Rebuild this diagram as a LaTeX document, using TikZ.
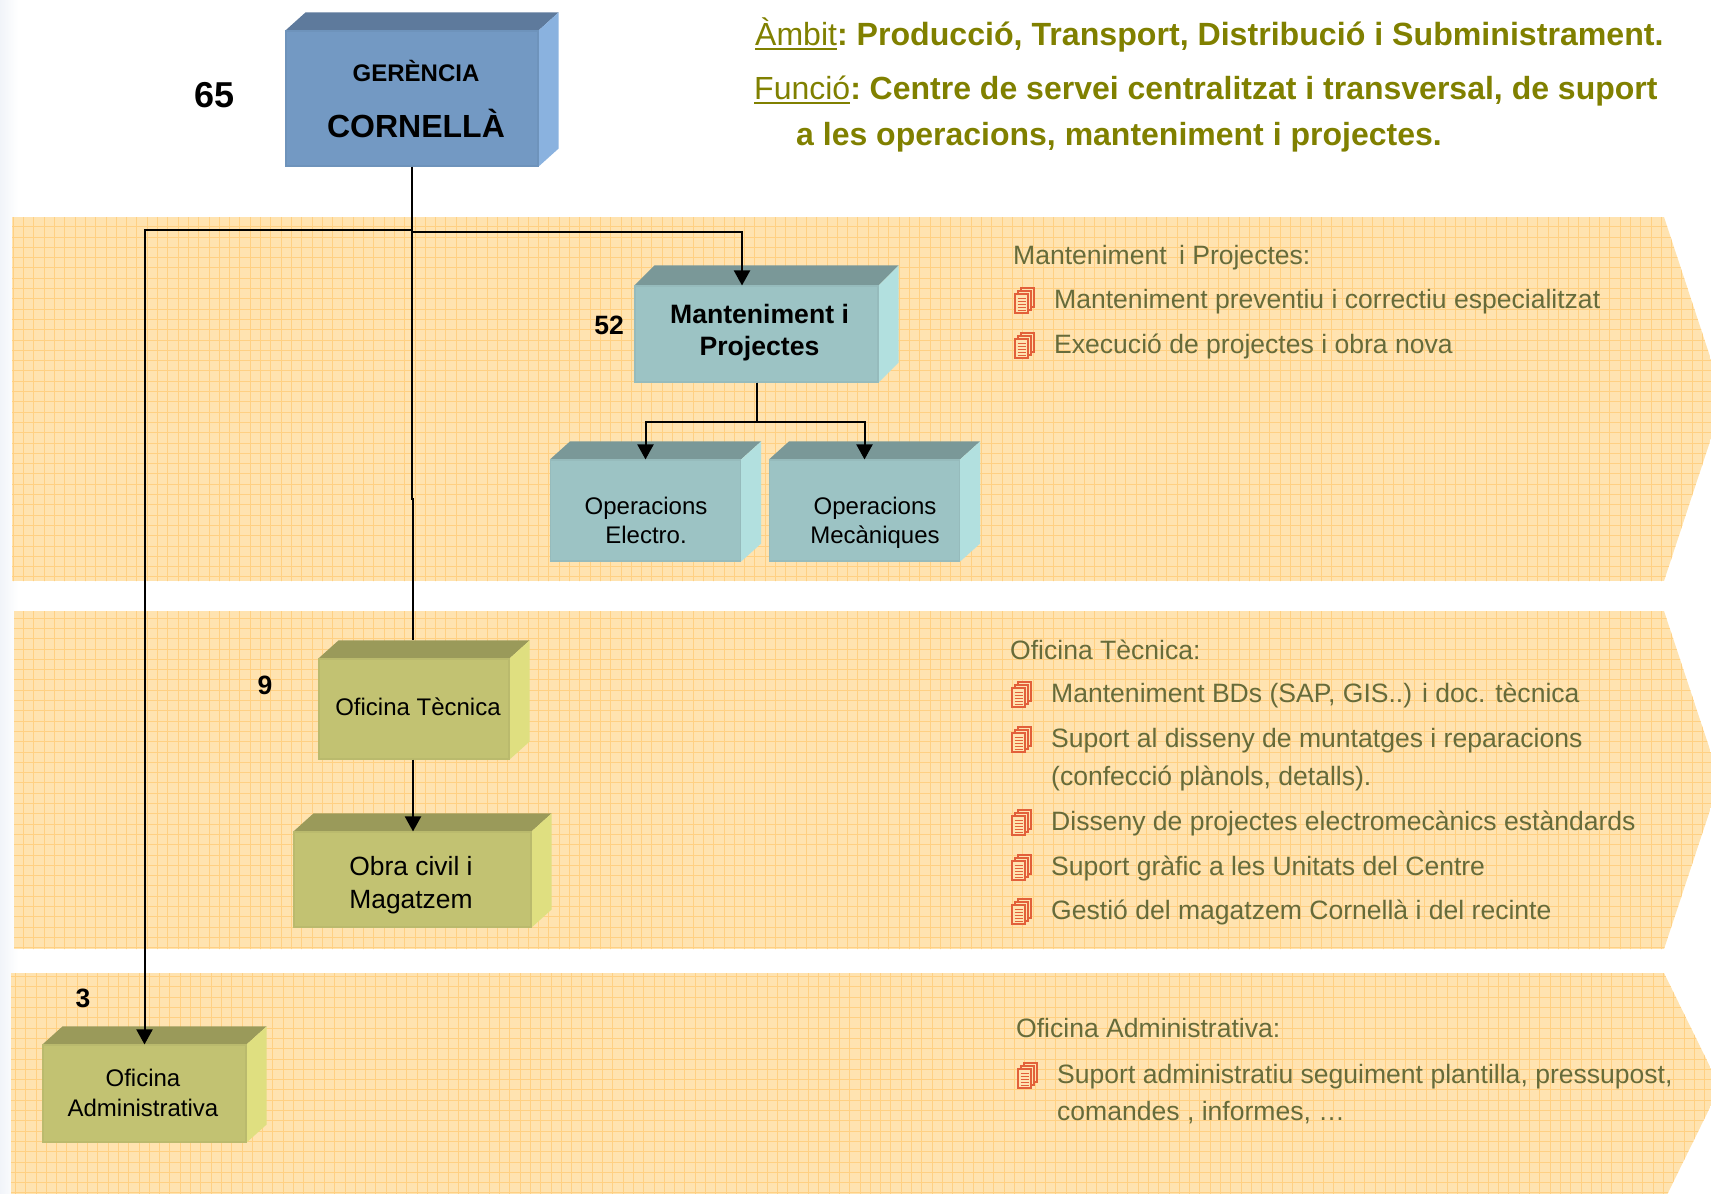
\documentclass[tikz,border=0pt]{standalone}
\usepackage{fontspec}
\setmainfont{Liberation Sans}
\usetikzlibrary{arrows.meta}
\definecolor{bandfill}{HTML}{FFE3B0}
\definecolor{bandline}{HTML}{FFD083}
\definecolor{headcolor}{HTML}{808000}
\definecolor{itemcolor}{HTML}{666B3A}
\definecolor{doccolor}{HTML}{E2603A}
\definecolor{edgecolor}{HTML}{F1F4F9}
\newcommand{\ulword}[1]{\setbox0\hbox{#1}\rlap{\rule[-4.5pt]{\wd0}{1.5pt}}\box0}
\newcommand{\band}[6]{\begin{scope}
		\clip (#1,#2) -- (1664,#2) -- (#4,{(#2+#3)/2}) -- (1664,#3) -- (#1,#3) -- cycle;
		\fill[bandfill] (#1,#2) rectangle (1730,#3);
		\draw[bandline, line width=.8pt, step=10.3pt, xshift=#5pt, yshift=#6pt] (#1-20,#2-20) grid (1750,#3+20);
	\end{scope}}
\tikzset{
	cube/.style n args={4}{fill=#1, draw=#1!96!black, line width=1.1pt, inner sep=0pt,
		append after command={\pgfextra{
			\fill[#2] (\tikzlastnode.north west) -- ++(20,#4) -- ([shift={(20,#4)}]\tikzlastnode.north east) -- (\tikzlastnode.north east) -- cycle;
			\fill[#3] (\tikzlastnode.north east) -- ++(20,#4) -- ([shift={(20,#4)}]\tikzlastnode.south east) -- (\tikzlastnode.south east) -- cycle;
		}}},
	bluebox/.style={cube={blueF}{blueT}{blueS}{-18}},
	tealbox/.style={cube={tealF}{tealT}{tealS}{#1}},
	tealbox/.default=-18,
	olivebox/.style={cube={oliveF}{oliveT}{oliveS}{-18}},
	boxtext/.style={align=center, inner sep=0pt, font=\fontsize{24}{29.5}\selectfont},
	count/.style={inner sep=0pt, font=\fontsize{26.5}{30}\selectfont\bfseries},
	head/.style={anchor=base west, inner sep=0pt, text=headcolor, font=\fontsize{32}{36}\selectfont},
	item/.style={anchor=base west, inner sep=0pt, text=itemcolor, font=\fontsize{26.55}{30}\selectfont},
	link/.style={line width=2pt},
	arrowlink/.style={line width=2pt, -{Triangle[width=16pt,length=15pt]}},
	docs/.pic={
		\draw[doccolor, line width=1.1pt, fill=bandfill] (6,0) rectangle (19,19);
		\draw[doccolor, line width=1.1pt, fill=bandfill] (3,3) rectangle (16,22);
		\draw[doccolor, line width=1.1pt, fill=bandfill] (0,6) rectangle (13,25);
		\foreach \ly in {10,13,16,19,22}
			\draw[doccolor, line width=.8pt] (2.5,\ly) -- (10.5,\ly);
	}
}
\definecolor{blueF}{HTML}{7399C3}
\definecolor{blueT}{HTML}{5E7A9C}
\definecolor{blueS}{HTML}{8AB2DF}
\definecolor{tealF}{HTML}{9CC3C4}
\definecolor{tealT}{HTML}{7A9898}
\definecolor{tealS}{HTML}{B2E0DF}
\definecolor{oliveF}{HTML}{C2C272}
\definecolor{oliveT}{HTML}{9A9A5A}
\definecolor{oliveS}{HTML}{DFDF80}
\begin{document}
\begin{tikzpicture}[x = 1pt, y = -1pt]
	\useasboundingbox (0,0) rectangle (1711,1194);
	\shade[left color=edgecolor, right color=white] (0,0) rectangle (18,1194); %page edge
	\band{12}{217}{581}{1724}{2.9}{0}
	\band{14}{611}{949}{1720}{2.9}{0}
	\band{11}{973}{1201}{1720}{5}{2}

	%boxes
	\node[bluebox, minimum width=252, minimum height=135] (gerencia) at (412,98.5) {};
	\node[tealbox=-20, minimum width=243, minimum height=96] (mant) at (756.5,334) {};
	\node[tealbox, minimum width=190, minimum height=101] (electro) at (645.5,510.5) {};
	\node[tealbox, minimum width=190, minimum height=101] (mec) at (864.5,510.5) {};
	\node[olivebox, minimum width=190, minimum height=100] (tec) at (414,709) {};
	\node[olivebox, minimum width=237, minimum height=95] (obra) at (412.5,879.5) {};
	\node[olivebox, minimum width=203, minimum height=97] (adm) at (144.5,1093.5) {};

	%box texts
	\node[inner sep=0pt, font=\fontsize{24}{28}\selectfont\bfseries] (gerenciatext) at (416,71) {GERÈNCIA};
	\node[inner sep=0pt, font=\fontsize{32}{36}\selectfont\bfseries] (cornellatext) at (416,123.5) {CORNELLÀ};
	\node[boxtext, font=\fontsize{26.6}{32}\selectfont\bfseries] (manttext) at (759.5,333) {Manteniment i\\Projectes};
	\node[boxtext] (electrotext) at (646,520.5) {Operacions\\Electro.};
	\node[boxtext] (mectext) at (875,523) {Operacions\\Mecàniques};
	\node[boxtext] (tectext) at (418,707) {Oficina Tècnica};
	\node[boxtext, font=\fontsize{26.4}{33}\selectfont] (obratext) at (411,885) {Obra civil i\\Magatzem};
	\node[boxtext] (admtext) at (143,1093) {Oficina\\Administrativa};

	%head counts
	\node[count, font=\fontsize{36}{40}\selectfont\bfseries] (countger) at (215,95) {65};
	\node[count] (countmant) at (609,325) {52};
	\node[count] (counttec) at (265,685) {9};
	\node[count] (countadm) at (83,998) {3};

	%links
	\coordinate (split) at (412,232);
	\coordinate (splitleft) at (412,230);
	\coordinate (kink) at (412,499);
	\coordinate (mantentry) at ([xshift=-14.5pt]mant.north);
	\coordinate (tecentry) at ([xshift=-1pt,yshift=18pt]tec.north);
	\coordinate (tecexit) at ([xshift=-1pt]tec.south);
	\draw[link] (gerencia.south) -- (kink) -| (tecentry);
	\draw[arrowlink] (split) -| (mantentry);
	\draw[arrowlink] (splitleft) -| (adm.north);
	\draw[arrowlink] (mant.south) -- ++(0,39) -| (electro.north);
	\draw[arrowlink] (mant.south) -- ++(0,39) -| (mec.north);
	\draw[arrowlink] (tecexit) -- (tecexit |- obra.north);

	%top text
	\node[head] (ambit) at (755,45) {\ulword{Àmbit}\textbf{\fontsize{32.13}{36}\selectfont:\hspace{-3pt} Producció, Transport, Distribució i Subministrament.}};
	\node[head] (funcio) at (754,99) {\ulword{Funció}\textbf{:\hspace{-3pt} Centre de servei centralitzat i transversal, de suport}};
	\node[head] (funciob) at (796,145) {\textbf{a les operacions, manteniment i projectes.}};

	%first band
	\node[item] (manttitle) at (1013,264) {Manteniment\hspace{5pt} i Projectes:};
	\pic at (1015,288) {docs};
	\node[item] (mantone) at (1054,308) {Manteniment preventiu i correctiu especialitzat};
	\pic at (1015,333) {docs};
	\node[item] (manttwo) at (1054,353) {Execució de projectes i obra nova};

	%second band
	\node[item] (tectitle) at (1010,659) {Oficina Tècnica:};
	\pic at (1012,682) {docs};
	\node[item] (tecone) at (1051,702) {Manteniment BDs (SAP, GIS..) i doc. tècnica};
	\pic at (1012,727) {docs};
	\node[item] (tectwo) at (1051,747) {Suport al disseny de muntatges i reparacions};
	\node[item] (tectwob) at (1051,785) {(confecció plànols, detalls).};
	\pic at (1012,810) {docs};
	\node[item] (tecthree) at (1051,830) {Disseny de projectes electromecànics estàndards};
	\pic at (1012,855) {docs};
	\node[item] (tecfour) at (1051,875) {Suport gràfic a les Unitats del Centre};
	\pic at (1012,899) {docs};
	\node[item] (tecfive) at (1051,919) {Gestió del magatzem Cornellà i del recinte};

	%third band
	\node[item] (admtitle) at (1016,1037) {Oficina Administrativa:};
	\pic at (1018,1063) {docs};
	\node[item] (admone) at (1057,1083) {Suport administratiu seguiment plantilla, pressupost,};
	\node[item] (admoneb) at (1057,1120) {comandes , informes, …};
\end{tikzpicture}
\end{document}
